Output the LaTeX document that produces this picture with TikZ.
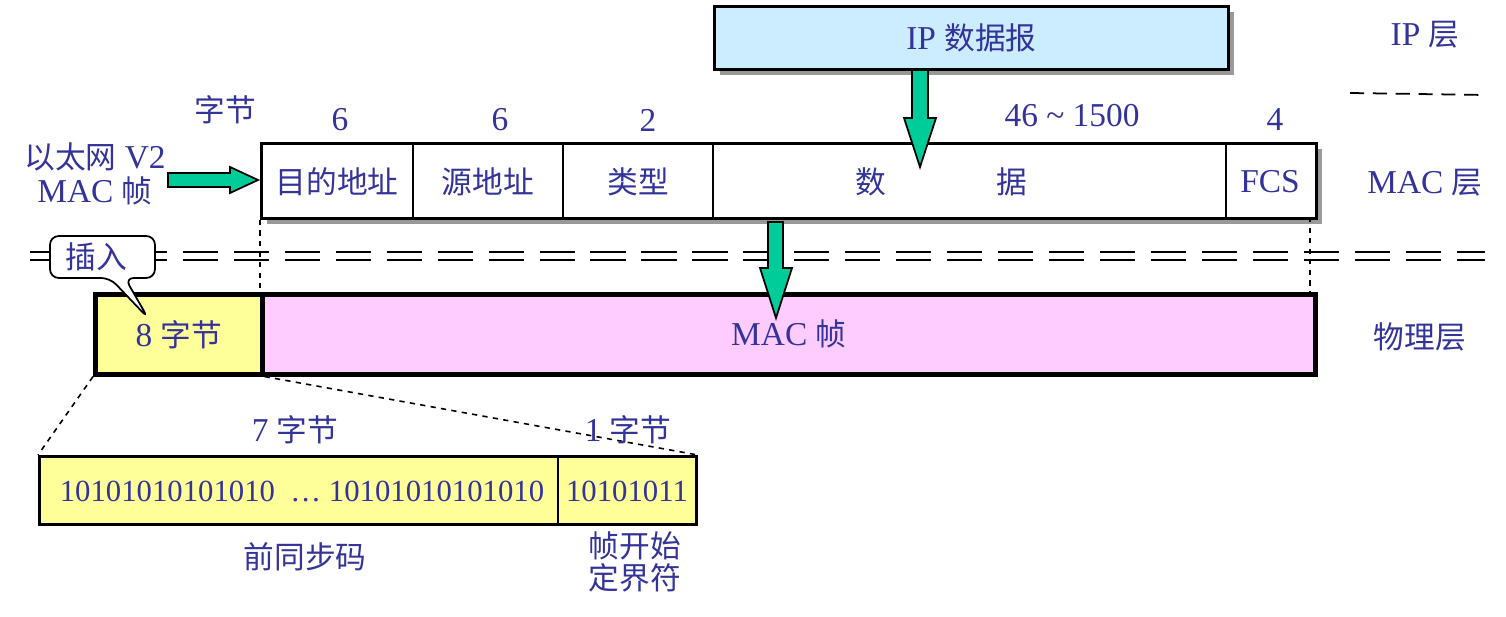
\documentclass[tikz,border=0pt]{standalone}
\usepackage{fontspec}
\setmainfont{Liberation Serif}
\newfontfamily\cjk[Scale=0.92]{Noto Sans CJK SC}
\begin{document}
\begin{tikzpicture}[x=0.02cm,y=-0.02cm,
  box/.style={draw=black,line width=1.6pt},
  thick box/.style={draw=black,line width=2.6pt},
  shadowed/.style={preaction={fill=black!40,draw=none,transform canvas={xshift=0.12cm,yshift=-0.12cm}}}]
\useasboundingbox (0,0) rectangle (1506,617);
\definecolor{tc}{HTML}{333399}
\definecolor{gr}{HTML}{00CC99}
\definecolor{pk}{HTML}{FFCCFF}
\definecolor{yl}{HTML}{FFFF99}
\definecolor{bl}{HTML}{CCECFF}
\tikzset{txt/.style={text=tc,font=\fontsize{19}{21}\selectfont},
  garrow/.style={fill=gr,draw=black,line width=1pt}}
% IP box
\node[box,shadowed,fill=bl,minimum width=514*0.02cm,minimum height=63*0.02cm,anchor=north west,txt] (ip) at (713,5) {IP {\cjk 数据报}};
% MAC header
\node[box,shadowed,fill=white,minimum width=1055*0.02cm,minimum height=75*0.02cm,anchor=north west] (hdr) at (260,142) {};
\foreach \x in {413,563,713,1226} \draw[line width=1.2pt] (\x,142) -- (\x,217);
\node[txt] (f1) at (337,182) {\cjk 目的地址};
\node[txt] (f2) at (488,182) {\cjk 源地址};
\node[txt] (f3) at (638,182) {\cjk 类型};
\node[txt] (f4) at (941,182) {\cjk 数\hspace{3.6em}据};
\node[txt] (f5) at (1270,182) {FCS};
\node[txt] (n1) at (340,120) {6};
\node[txt] (n2) at (500,120) {6};
\node[txt] (n3) at (648,120) {2};
\node[txt] (n4) at (1072,116) {46 \char`~\ 1500};
\node[txt] (n5) at (1275,120) {4};
\node[txt] (zj) at (225,110) {\cjk 字节};
\node[txt,align=center,inner sep=0pt] (v2) at (95,174) {{\cjk 以太网} V2\\[-2pt]MAC {\cjk 帧}};
% layer labels
\node[txt] (l1) at (1425,35) {IP {\cjk 层}};
\node[txt] (l2) at (1425,183) {MAC {\cjk 层}};
\node[txt] (l3) at (1420,337) {\cjk 物理层};
\coordinate (d1) at (1350,93); \coordinate (d2) at (1485,95);
\draw[line width=1pt,dash pattern=on 8pt off 5pt] (d1) -- (d2);
% double dashed line
\coordinate (a1) at (30,252); \coordinate (a2) at (1485,252);
\coordinate (b1) at (30,260); \coordinate (b2) at (1485,260);
\draw[line width=1.4pt,dash pattern=on 20pt off 9pt] (a1) -- (a2);
\draw[line width=1.4pt,dash pattern=on 20pt off 9pt] (b1) -- (b2);
% physical layer
\node[thick box,fill=yl,minimum width=167*0.02cm,minimum height=80*0.02cm,anchor=north west,txt] (pre) at (93,292) {8 {\cjk 字节}};
\node[thick box,fill=pk,minimum width=1053*0.02cm,minimum height=80*0.02cm,anchor=north west,txt] (mac) at (260,292) {MAC {\cjk 帧}};
\draw[dashed,line width=0.9pt] (hdr.south west) -- (mac.north west);
\draw[dashed,line width=0.9pt] (1310,217) -- (1310,292);
% green arrows
\draw[garrow] (912,70) -- (928,70) -- (928,118) -- (936,118) -- (920,167) -- (904,118) -- (912,118) -- cycle;
\draw[garrow] (768,222) -- (783,222) -- (783,268) -- (792,268) -- (776,318) -- (760,268) -- (768,268) -- cycle;
\draw[garrow] (168,173) -- (230,173) -- (230,167) -- (258,180) -- (230,193) -- (230,187) -- (168,187) -- cycle;
% callout
\draw[fill=white,line width=1pt,rounded corners=5pt] (50,236) -- (155,236) -- (155,278) -- (125,278) -- (148,318) -- (110,278) -- (50,278) -- cycle;
\node[txt] (ins) at (96,257) {\cjk 插入};
% preamble detail
\node[box,fill=yl,minimum width=657*0.02cm,minimum height=68*0.02cm,anchor=north west] (pb) at (38,455) {};
\draw[line width=1.2pt] (558,455) -- (558,523);
\node[txt,font=\fontsize{17.5}{20}\selectfont] (p1) at (302,491) {10101010101010\ \ \ldots\ 10101010101010};
\node[txt,font=\fontsize{17.5}{20}\selectfont] (p2) at (627,491) {10101011};
\draw[dashed,line width=0.9pt] (pre.south west) -- (pb.north west);
\draw[dashed,line width=0.9pt] (pre.south east) -- (pb.north east);
\node[txt] (s7) at (295,430) {7 {\cjk 字节}};
\node[txt] (s1) at (628,430) {1 {\cjk 字节}};
\node[txt] (q1) at (305,557) {\cjk 前同步码};
\node[txt,align=center,inner sep=0pt] (q2) at (635,562) {\cjk 帧开始\\[-3pt]\cjk 定界符};
\end{tikzpicture}
\end{document}
